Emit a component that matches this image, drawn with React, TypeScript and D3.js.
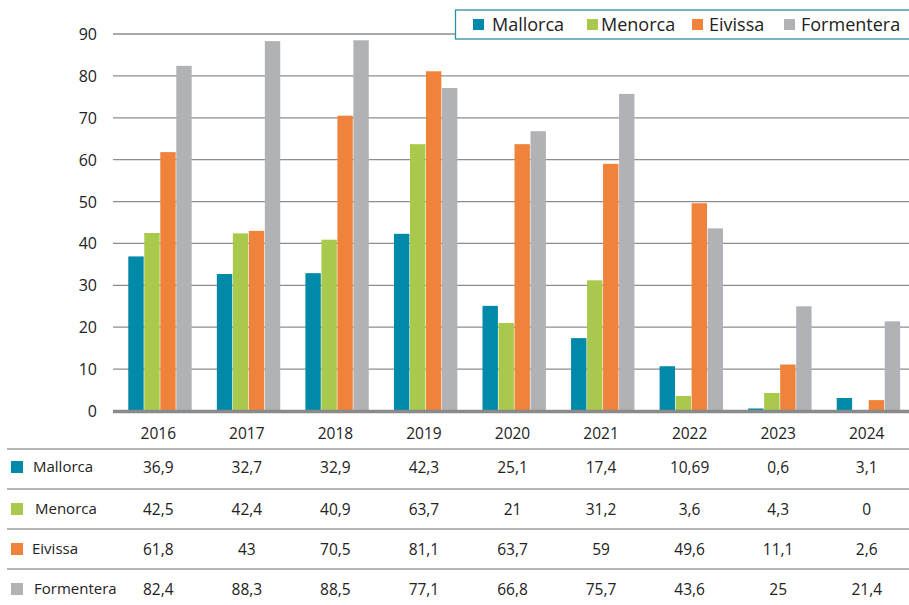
import React from "react";
import * as d3 from "d3";

const years = ["2016", "2017", "2018", "2019", "2020", "2021", "2022", "2023", "2024"];
const seriesNames = ["Mallorca", "Menorca", "Eivissa", "Formentera"];
const mallorca = [36.9, 32.7, 32.9, 42.3, 25.1, 17.4, 10.69, 0.6, 3.1];
const menorca = [42.5, 42.4, 40.9, 63.7, 21, 31.2, 3.6, 4.3, 0];
const eivissa = [61.8, 43, 70.5, 81.1, 63.7, 59, 49.6, 11.1, 2.6];
const formentera = [82.4, 88.3, 88.5, 77.1, 66.8, 75.7, 43.6, 25, 21.4];
const yTicks = [0, 10, 20, 30, 40, 50, 60, 70, 80, 90];
const colors = ["#0089a9", "#a9c94c", "#f0833b", "#b1b2b5"];

const W = 909;
const H = 605;
const FONT = "'Open Sans', 'Noto Sans', sans-serif";

export default function App() {
  const series = [mallorca, menorca, eivissa, formentera];
  const x = d3.scaleBand<string>().domain(years).range([116, 913]).padding(0);
  const y = d3.scaleLinear().domain([0, 90]).range([411, 34]);
  const barW = 16;
  const groupW = barW * series.length;
  const fmt = (v: number) => String(v).replace(".", ",");

  const rowY = [467, 509, 549, 589];
  const rowLines = [449, 489, 529, 569];
  const labelX = [33, 35, 32, 34];

  const legendItems = [
    { sq: 473, tx: 492 },
    { sq: 587, tx: 601 },
    { sq: 692, tx: 709 },
    { sq: 784, tx: 801 },
  ];

  return (
    <svg
      width={W}
      height={H}
      style={{ position: "absolute", left: 0, top: 0, background: "#fff" }}
      fontFamily={FONT}
    >
      {yTicks.filter((t) => t > 0).map((t) => (
        <line key={t} x1={113} x2={909} y1={y(t)} y2={y(t)} stroke="#8d8d8d" strokeWidth={1.3} />
      ))}
      {yTicks.map((t) => (
        <text key={t} x={97} y={y(t)} textAnchor="end" dominantBaseline="central" fontSize={16} fill="#222">
          {t}
        </text>
      ))}
      {years.map((yr, i) => {
        const cx = (x(yr) as number) + x.bandwidth() / 2;
        const x0 = cx - groupW / 2;
        return series.map((s, k) => {
          const v = s[i];
          const top = y(v);
          return (
            <rect
              key={yr + k}
              x={x0 + k * barW}
              y={top}
              width={barW - 0.6}
              height={Math.max(0, y(0) - top)}
              fill={colors[k]}
            />
          );
        });
      })}
      <line x1={113} x2={909} y1={y(0) + 0.5} y2={y(0) + 0.5} stroke="#8a8a8a" strokeWidth={3.5} />
      {years.map((yr) => (
        <text
          key={yr}
          x={(x(yr) as number) + x.bandwidth() / 2 - 2}
          y={433}
          textAnchor="middle"
          dominantBaseline="central"
          fontSize={15.5}
          fill="#222"
        >
          {yr}
        </text>
      ))}
      {rowLines.map((ly) => (
        <line key={ly} x1={7} x2={909} y1={ly} y2={ly} stroke="#9c9c9c" strokeWidth={1.5} />
      ))}
      {seriesNames.map((name, k) => (
        <g key={name}>
          <rect x={11} y={rowY[k] - 6} width={12} height={12} fill={colors[k]} />
          <text x={labelX[k]} y={rowY[k] - 1} dominantBaseline="central" fontSize={15} fill="#222">
            {name}
          </text>
          {years.map((yr, i) => (
            <text
              key={yr}
              x={(x(yr) as number) + x.bandwidth() / 2 - 2}
              y={rowY[k]}
              textAnchor="middle"
              dominantBaseline="central"
              fontSize={15.5}
              fill="#222"
            >
              {fmt(series[k][i])}
            </text>
          ))}
        </g>
      ))}
      <rect x={455.5} y={10} width={460} height={29} fill="#fff" stroke="#2b8fa3" strokeWidth={1.3} />
      {seriesNames.map((name, k) => (
        <g key={name}>
          <rect x={legendItems[k].sq} y={19} width={11} height={11} fill={colors[k]} />
          <text x={legendItems[k].tx} y={24} dominantBaseline="central" fontSize={18} fill="#222">
            {name}
          </text>
        </g>
      ))}
    </svg>
  );
}
